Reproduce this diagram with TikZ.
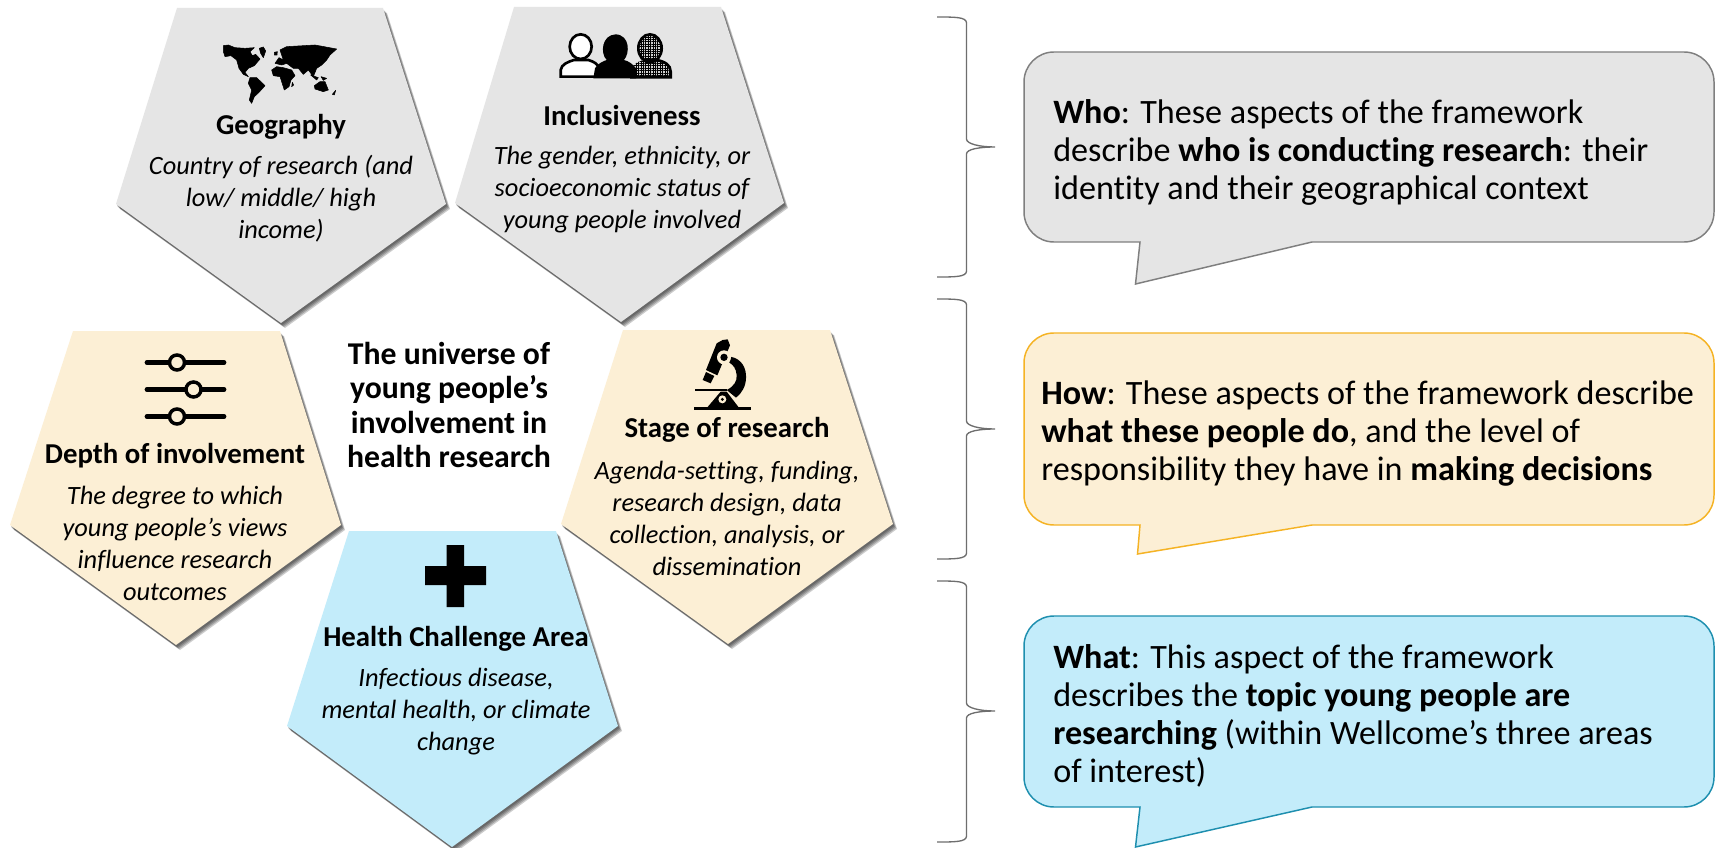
\documentclass[tikz,border=0pt]{standalone}
\usepackage{fontspec}
\setmainfont{Carlito}[Ligatures=NoCommon]
\usetikzlibrary{patterns.meta}
\definecolor{cgray}{HTML}{E5E5E5}
\definecolor{ccream}{HTML}{FCEFD5}
\definecolor{cblue}{HTML}{C3ECFA}
\definecolor{bgray}{HTML}{7F7F7F}
\definecolor{bcream}{HTML}{F5B324}
\definecolor{bblue}{HTML}{1E8FAF}
\definecolor{brgray}{HTML}{6E6E6E}
\tikzset{
  x=.75pt,y=-.75pt,
  ptitle/.style={font=\fontsize{21.6}{24}\selectfont\bfseries,align=center,inner sep=0pt,text=black,text height=.72em,text depth=.22em},
  pbody/.style={font=\fontsize{19.8}{24}\selectfont\itshape,align=center,inner sep=0pt,text=black},
  centre/.style={font=\fontsize{23.8}{25.7}\selectfont\bfseries,align=center,inner sep=0pt,text=black},
  calltext/.style={font=\fontsize{25.6}{28.5}\selectfont,align=left,anchor=west,inner sep=0pt,text=black},
  bracel/.style={draw=brgray,line width=1pt},
}
% pentagon: #1 colour, #2..#6 vertices
\newcommand{\penta}[6]{%
  \foreach \dx/\dy in {1/2,2/3,3/4,4/5}{%
    \fill[black,opacity=.2,shift={(\dx,\dy)}] #2 -- #3 -- #4 -- #5 -- #6 -- cycle;}%
  \fill[#1] #2 -- #3 -- #4 -- #5 -- #6 -- cycle;}
% brace: #1 top y, #2 tip y, #3 bottom y
\newcommand{\bracket}[3]{%
  \draw[bracel] (937,#1) .. controls (955,#1) and (966.5,#1) .. (966.5,#1+6) -- (966.5,#2-8)
     .. controls (966.5,#2-3) and (980,#2) .. (995,#2)
     .. controls (980,#2) and (966.5,#2+2) .. (966.5,#2+7) -- (966.5,#3-6)
     .. controls (966.5,#3) and (955,#3) .. (937,#3);}
% callout: #1 fill, #2 border, #3 top, #4 bottom, #5 tip x, #6 tip y
\newcommand{\bubble}[6]{%
  \draw[fill=#1,draw=#2,line width=1.1pt,line join=miter]
    (1054,#3) -- (1684,#3) arc[start angle=-90,end angle=0,radius=30] -- (1714,#4-30)
    arc[start angle=0,end angle=90,radius=30] -- (1312,#4) -- (#5,#6) -- (1140,#4) -- (1054,#4)
    arc[start angle=90,end angle=180,radius=30] -- (1024,#3+30)
    arc[start angle=180,end angle=270,radius=30] -- cycle;}
\begin{document}
\begin{tikzpicture}
\useasboundingbox (0,0) rectangle (1715,848);
\fill[white] (0,0) rectangle (1715,848);

% pentagons
\penta{cgray}{(177,8)}{(383,8)}{(446,204)}{(281,323)}{(116,204)}
\penta{cgray}{(514,7)}{(721,7)}{(784,203)}{(621,322)}{(455,203)}
\penta{ccream}{(73,331)}{(280,331)}{(341,525)}{(176,645)}{(10,525)}
\penta{ccream}{(623,330)}{(830,330)}{(893,524)}{(728,644)}{(561,524)}
\penta{cblue}{(349,531)}{(556,531)}{(618,726)}{(452,847)}{(287,726)}

% texts in pentagons
\node[ptitle] (geoT) at (281,131) {Geography};
\node[pbody] (geoB) at (281,199) {Country of research (and\\low/ middle/ high\\income)};
\node[ptitle] (incT) at (622,122.5) {Inclusiveness};
\node[pbody] (incB) at (622,190) {The gender, ethnicity, or\\socioeconomic status of\\young people involved};
\node[ptitle] (depT) at (175,460) {Depth of involvement};
\node[pbody] (depB) at (175,543) {The degree to which\\young people’s views\\influence research\\outcomes};
\node[ptitle] (staT) at (727,434.5) {Stage of research};
\node[pbody] (staB) at (727,518) {Agenda-setting, funding,\\research design, data\\collection, analysis, or\\dissemination};
\node[ptitle] (heaT) at (456,643) {Health Challenge Area};
\node[pbody] (heaB) at (456,711.5) {Infectious disease,\\mental health, or climate\\change};
\node[centre] (cen) at (449,405) {The universe of\\young people’s\\involvement in\\health research};

% world map icon
\begin{scope}[shift={(215,35)},x=.25pt,y=-.25pt]
\fill[black,line join=round,draw=black,line width=.4pt]
 (25,32)--(40,30)--(60,38)--(90,40)--(118,38)--(105,50)--(112,62)--(122,58)--(135,72)--(118,92)--(100,100)--(90,112)--(100,125)--(85,118)--(72,100)--(65,75)--(48,62)--(30,65)--(25,50)--cycle
 (133,40)--(145,36)--(152,48)--(145,68)--(137,55)--cycle
 (105,128)--(125,128)--(150,152)--(132,172)--(118,185)--(110,205)--(103,195)--(110,165)--(100,145)--cycle
 (170,105)--(185,95)--(205,98)--(230,105)--(240,122)--(228,135)--(222,155)--(208,165)--(200,140)--(195,125)--(175,122)--cycle
 (232,142)--(236,150)--(230,155)--cycle
 (195,45)--(215,35)--(300,30)--(365,42)--(345,60)--(335,75)--(320,90)--(305,100)--(295,125)--(280,105)--(265,118)--(250,100)--(235,100)--(215,85)--(200,90)--(180,85)--(192,68)--(205,75)--(200,60)--cycle
 (178,52)--(187,50)--(186,60)--(178,60)--cycle
 (298,152)--(315,140)--(330,140)--(340,165)--(325,170)--(300,162)--cycle
 (287,120)--(310,128)--(305,135)--cycle
 (318,125)--(335,130)--(325,136)--cycle
 (352,178)--(362,166)--(358,180)--cycle;
\end{scope}

% people icon
\begin{scope}[shift={(550,25)},x=.25pt,y=-.25pt]
% left person
\draw[fill=white,draw=black,line width=2pt] (32,155)--(32,135) .. controls (34,118) and (55,110) .. (72,105) -- (115,105) .. controls (130,110) and (145,115) .. (150,135) -- (150,155) -- cycle;
\draw[fill=white,draw=black,line width=2pt] (92,65) ellipse[x radius=33,y radius=37];
% right person
\fill[gray!35] (245,157)--(245,135) .. controls (250,115) and (265,110) .. (280,105) -- (320,105) .. controls (345,110) and (362,120) .. (362,140) -- (362,157) -- cycle;
\fill[gray!35] (300,70) ellipse[x radius=35,y radius=42];
\path[pattern={Lines[angle=0,distance=1.8pt,line width=.22pt]},pattern color=black] (245,157)--(245,135) .. controls (250,115) and (265,110) .. (280,105) -- (320,105) .. controls (345,110) and (362,120) .. (362,140) -- (362,157) -- cycle;
\path[pattern={Lines[angle=90,distance=1.8pt,line width=.22pt]},pattern color=black] (245,157)--(245,135) .. controls (250,115) and (265,110) .. (280,105) -- (320,105) .. controls (345,110) and (362,120) .. (362,140) -- (362,157) -- cycle;
\path[pattern={Lines[angle=0,distance=1.8pt,line width=.22pt]},pattern color=black] (300,70) ellipse[x radius=35,y radius=42];
\path[pattern={Lines[angle=90,distance=1.8pt,line width=.22pt]},pattern color=black] (300,70) ellipse[x radius=35,y radius=42];
\draw[draw=black,line width=2pt] (240,157)--(362,157)--(362,140) .. controls (362,120) and (345,110) .. (320,105) -- (280,105);
\draw[draw=black,line width=2pt] (300,70) ellipse[x radius=35,y radius=42];
% middle person
\fill[black] (130,160)--(135,130) .. controls (140,118) and (160,108) .. (170,105) .. controls (150,85) and (155,30) .. (197,28) .. controls (240,30) and (240,85) .. (222,105) .. controls (235,108) and (250,118) .. (258,130) -- (258,160) -- cycle;
\end{scope}

% slider icon
\draw[black,line width=3.6pt,line cap=round] (147,362.5) -- (224,362.5);
\draw[black,line width=3.6pt,line cap=round] (147,389.5) -- (224,389.5);
\draw[black,line width=3.6pt,line cap=round] (147,416.5) -- (224,416.5);
\draw[fill=ccream,draw=black,line width=2.6pt] (177,362.5) circle[radius=7.5];
\draw[fill=ccream,draw=black,line width=2.6pt] (193.5,389.5) circle[radius=7.5];
\draw[fill=ccream,draw=black,line width=2.6pt] (177,416.5) circle[radius=7.5];

% microscope icon
\begin{scope}[shift={(680,330)},x=.25pt,y=-.25pt]
\fill[black] (110,40) -- (128,30) -- (143,28) -- (150,46) -- (112,136) -- (78,120) -- cycle;
\fill[black] (78,126) -- (103,138) -- (92,160) -- (68,150) -- cycle;
\fill[black] (150,80) .. controls (185,85) and (200,115) .. (198,145) .. controls (197,170) and (185,190) .. (168,203) -- (140,180) .. controls (160,170) and (172,155) .. (170,135) .. controls (168,115) and (160,105) .. (148,98) -- cycle;
\fill[ccream] (132,82) circle[radius=21];
\fill[black] (132,82) circle[radius=11];
\fill[black] (45,176) rectangle (140,184);
\fill[black] (82,232) -- (122,185) -- (140,185) -- (176,232) -- cycle;
\fill[ccream] (127,208) circle[radius=12];
\fill[black] (127,208) circle[radius=5];
\fill[black] (42,232) rectangle (212,240);
\end{scope}

% plus icon
\fill[black] (446.5,545) -- (464,545) -- (464,566) -- (486,566) -- (486,585) -- (464,585) -- (464,607) -- (446.5,607) -- (446.5,585) -- (425,585) -- (425,566) -- (446.5,566) -- cycle;

% braces
\bracket{17}{147}{277}
\bracket{299}{429}{559}
\bracket{581}{711}{842}

% speech bubbles
\bubble{cgray}{bgray}{52}{242}{1135.5}{284}
\bubble{ccream}{bcream}{333}{525}{1137.5}{554}
\bubble{cblue}{bblue}{616}{807}{1135.5}{847}

\node[calltext] (who) at (1053,152.5) {\textbf{Who}: These aspects of the framework\\describe \textbf{who is conducting research}: their\\identity and their geographical context};
\node[calltext] (how) at (1041,434) {\textbf{How}: These aspects of the framework describe\\\textbf{what these people do}, and the level of\\responsibility they have in \textbf{making decisions}};
\node[calltext] (what) at (1053,716) {\textbf{What}: This aspect of the framework\\describes the \textbf{topic young people are}\\\textbf{researching} (within Wellcome’s three areas\\of interest)};
\end{tikzpicture}
\end{document}
